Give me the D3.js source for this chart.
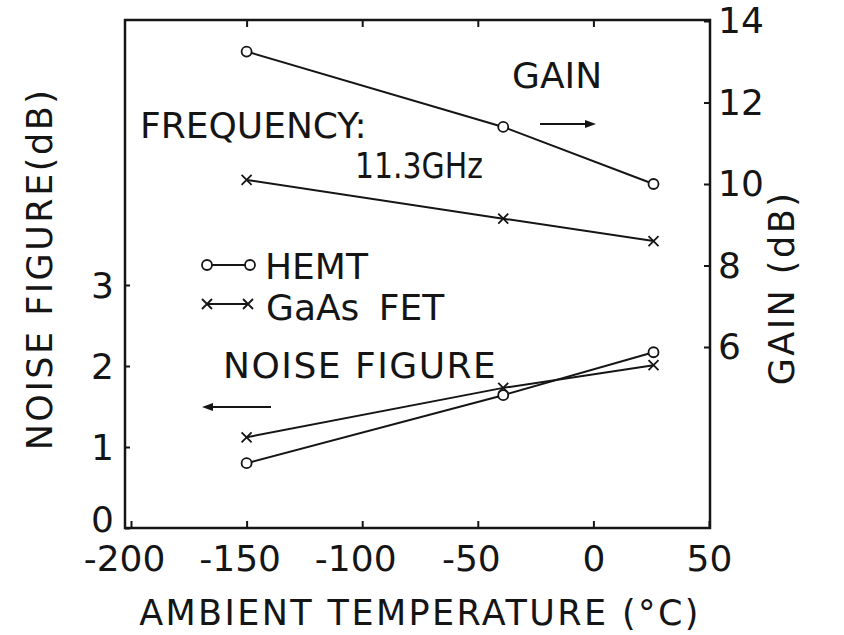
<!doctype html>
<html>
<head>
<meta charset="utf-8">
<title>Noise figure and gain vs ambient temperature</title>
<script src="https://cdn.jsdelivr.net/npm/d3@7"></script>
<style>
  body { margin: 0; background: #fff; }
  svg text { font-family: "DejaVu Sans", sans-serif; fill: #151515; }
</style>
</head>
<body>
<svg id="chart" width="844" height="635"></svg>
<script>
// values
var temps = [-150, -39, 26];
var hemtGain = [13.25, 11.4, 10.0];
var fetGain = [10.1, 9.15, 8.6];
var hemtNF = [0.80, 1.64, 2.17];
var fetNF = [1.12, 1.73, 2.01];

var xTicks = [-200, -150, -100, -50, 0, 50];
var nfTicks = [0, 1, 2, 3];
var gainTicks = [6, 8, 10, 12, 14];

var ink = '#151515';
var svg = d3.select('#chart');

var x = d3.scaleLinear().domain([-200, 50]).range([131, 709]);
var yNF = d3.scaleLinear().domain([0, 3]).range([528, 285]);
var yGain = d3.scaleLinear().domain([6, 14]).range([347, 21]);

// plot frame edges
var fLeft = 125, fRight = 710, fTop = 20, fBottom = 528;

svg.append('rect')
  .attr('x', fLeft).attr('y', fTop)
  .attr('width', fRight - fLeft).attr('height', fBottom - fTop)
  .attr('fill', 'none').attr('stroke', ink).attr('stroke-width', 2.5);

function fmt(d) { return String(d); }

// bottom axis
var gx = svg.append('g').attr('transform', 'translate(0,' + fBottom + ')')
  .call(d3.axisBottom(x).tickValues(xTicks).tickFormat(fmt).tickSizeInner(-7).tickSizeOuter(0).tickPadding(17));
gx.selectAll('text').attr('dx', function(d) { return d < 0 ? -7 : 0; });

// top ticks only
var gt = svg.append('g').attr('transform', 'translate(0,' + fTop + ')')
  .call(d3.axisTop(x).tickValues(xTicks.slice(1, 5)).tickFormat('').tickSizeInner(-7).tickSizeOuter(0));

// left axis (noise figure)
var gl = svg.append('g').attr('transform', 'translate(' + fLeft + ',0)')
  .call(d3.axisLeft(yNF).tickValues(nfTicks).tickFormat(fmt).tickSizeInner(-5).tickSizeOuter(0).tickPadding(11));
gl.selectAll('text').attr('dy', function(d) { return d === 0 ? '0.1em' : '0.35em'; });

// right axis (gain)
var gr = svg.append('g').attr('transform', 'translate(' + fRight + ',0)')
  .call(d3.axisRight(yGain).tickValues(gainTicks).tickFormat(fmt).tickSizeInner(-6).tickSizeOuter(0).tickPadding(8));

[gx, gt, gl, gr].forEach(function(g) {
  g.select('.domain').remove();
  g.selectAll('line').attr('stroke', ink).attr('stroke-width', 2);
  g.selectAll('text').attr('font-size', 36).attr('fill', ink)
    .style('font-family', '"DejaVu Sans", sans-serif');
});

// axis titles
svg.append('text')
  .attr('x', 420).attr('y', 625)
  .attr('text-anchor', 'middle').attr('font-size', 35)
  .attr('letter-spacing', 2.4)
  .text('AMBIENT TEMPERATURE (°C)');

svg.append('text')
  .attr('transform', 'translate(52,269) rotate(-90)')
  .attr('text-anchor', 'middle').attr('font-size', 35)
  .attr('letter-spacing', 2.5)
  .text('NOISE FIGURE(dB)');

svg.append('text')
  .attr('transform', 'translate(794,288) rotate(-90)')
  .attr('text-anchor', 'middle').attr('font-size', 35)
  .attr('letter-spacing', 2.5)
  .text('GAIN (dB)');

// series
var series = [
  { vals: hemtGain, y: yGain, mark: 'o' },
  { vals: fetGain, y: yGain, mark: 'x' },
  { vals: hemtNF, y: yNF, mark: 'o' },
  { vals: fetNF, y: yNF, mark: 'x' }
];

var line = d3.line();

function drawMark(g, type, cx, cy) {
  if (type === 'o') {
    g.append('circle').attr('cx', cx).attr('cy', cy).attr('r', 5)
      .attr('fill', '#fff').attr('stroke', ink).attr('stroke-width', 1.8);
  } else {
    var s = 5;
    g.append('path')
      .attr('d', 'M' + (cx - s) + ',' + (cy - s) + 'L' + (cx + s) + ',' + (cy + s) +
                 'M' + (cx - s) + ',' + (cy + s) + 'L' + (cx + s) + ',' + (cy - s))
      .attr('stroke', ink).attr('stroke-width', 1.8).attr('fill', 'none');
  }
}

series.forEach(function(s) {
  var pts = temps.map(function(t, i) { return [x(t), s.y(s.vals[i])]; });
  svg.append('path').attr('d', line(pts))
    .attr('fill', 'none').attr('stroke', ink).attr('stroke-width', 2);
  var g = svg.append('g');
  pts.forEach(function(p) { drawMark(g, s.mark, p[0], p[1]); });
});

// legend
var lg = svg.append('g');
lg.append('line').attr('x1', 207).attr('x2', 250).attr('y1', 265).attr('y2', 265)
  .attr('stroke', ink).attr('stroke-width', 2);
drawMark(lg, 'o', 207, 265);
drawMark(lg, 'o', 250, 265);
lg.append('line').attr('x1', 207).attr('x2', 248).attr('y1', 304).attr('y2', 304)
  .attr('stroke', ink).attr('stroke-width', 2);
drawMark(lg, 'x', 207, 304);
drawMark(lg, 'x', 248, 304);
lg.append('text').attr('x', 265).attr('y', 279).attr('font-size', 36).text('HEMT');
lg.append('text').attr('x', 266).attr('y', 320).attr('font-size', 36)
  .attr('word-spacing', 8).text('GaAs FET');

// annotations
svg.append('text').attr('x', 140).attr('y', 138).attr('font-size', 36).text('FREQUENCY:');
svg.append('text').attr('x', 355).attr('y', 178).attr('font-size', 36)
  .attr('textLength', 128).attr('lengthAdjust', 'spacingAndGlyphs').text('11.3GHz');
svg.append('text').attr('x', 512).attr('y', 88).attr('font-size', 36).text('GAIN');
svg.append('text').attr('x', 223).attr('y', 378).attr('font-size', 36)
  .attr('letter-spacing', 1.5).text('NOISE FIGURE');

// direction arrows
function arrow(x1, x2, y) {
  var dir = x2 > x1 ? 1 : -1;
  svg.append('line').attr('x1', x1).attr('x2', x2 - dir * 6).attr('y1', y).attr('y2', y)
    .attr('stroke', ink).attr('stroke-width', 2);
  svg.append('path')
    .attr('d', 'M' + x2 + ',' + y + 'L' + (x2 - dir * 11) + ',' + (y - 4) + 'L' + (x2 - dir * 11) + ',' + (y + 4) + 'Z')
    .attr('fill', ink);
}
arrow(540, 596, 124);
arrow(271, 202, 407);
</script>
</body>
</html>
